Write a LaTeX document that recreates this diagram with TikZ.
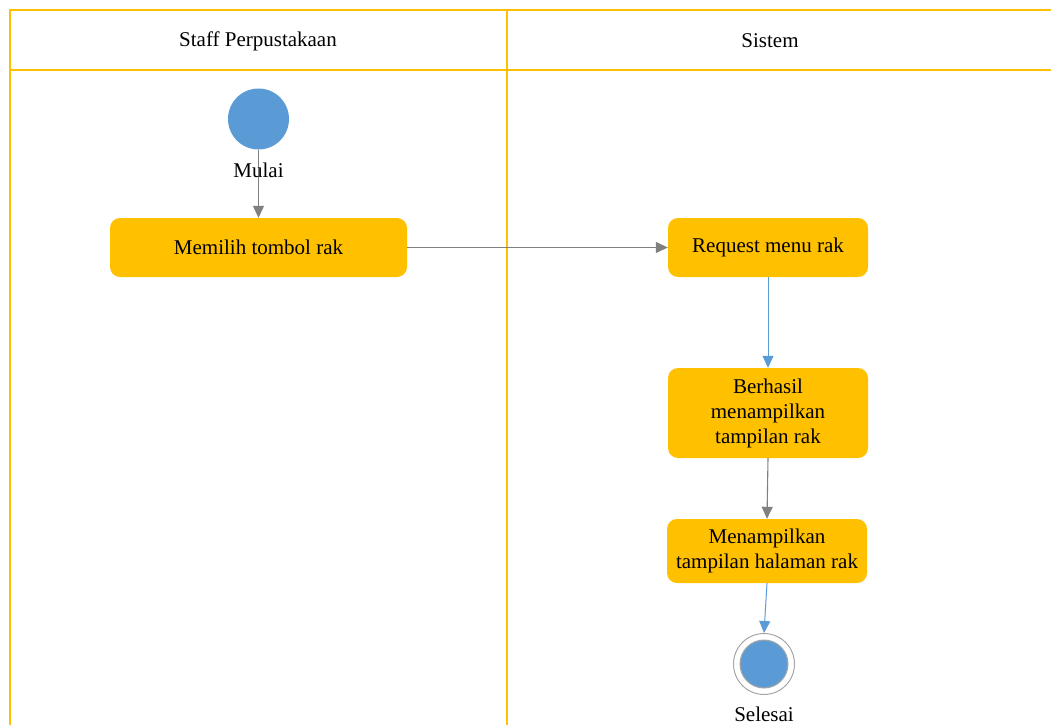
\documentclass[tikz,border=0pt]{standalone}
\usepackage{fontspec}
\setmainfont{Liberation Serif}
\usetikzlibrary{arrows.meta}
\definecolor{laneline}{HTML}{FFC000}
\definecolor{actfill}{HTML}{FFC000}
\definecolor{nodeblue}{HTML}{5B9BD5}
\definecolor{flowgray}{HTML}{808080}
\begin{document}
\begin{tikzpicture}[x=1pt,y=-1pt,
  lane/.style={draw=laneline,line width=1.3pt},
  action/.style={fill=actfill,rounded corners=10pt,align=center,inner sep=2pt,
    font=\fontsize{21}{25}\selectfont},
  lanetitle/.style={font=\fontsize{21}{25}\selectfont},
  caption/.style={font=\fontsize{21}{25}\selectfont},
  flow/.style={draw=flowgray,line width=1.1pt,-{Triangle[length=12pt,width=11pt]}},
  flowblue/.style={draw=nodeblue,line width=1pt,-{Triangle[length=12pt,width=11pt]}}]
  \useasboundingbox (0,0) rectangle (1051,725);
  % swimlane frame
  \draw[lane] (10,725) -- (10,10) -- (1051,10);
  \draw[lane] (10,70) -- (1051,70);
  \draw[lane] (507,10) -- (507,725);
  \node[lanetitle] (laneA) at (258,41) {Staff Perpustakaan};
  \node[lanetitle] (laneB) at (770,41) {Sistem};
  % start node
  \node[circle,fill=nodeblue,minimum size=61pt,inner sep=0pt] (start) at (258.5,119) {};
  % activities
  \node[action,minimum width=297pt,minimum height=59pt] (a1) at (258.5,247.5) {Memilih tombol rak};
  \node[action,minimum width=200pt,minimum height=59pt] (a2) at (768,247.5) {Request menu rak};
  \node[action,minimum width=200pt,minimum height=90pt] (a3) at (768,413) {Berhasil\\menampilkan\\tampilan rak};
  \node[action,minimum width=200pt,minimum height=64pt] (a4) at (767,551) {Menampilkan\\tampilan halaman rak};
  % end node
  \node[circle,draw=flowgray!70,line width=1pt,fill=white,minimum size=61pt,inner sep=0pt] (stop) at (764,664) {};
  \node[circle,draw=flowgray!70,line width=1pt,fill=nodeblue,minimum size=48pt,inner sep=0pt] (stopin) at (stop.center) {};
  % flows
  \draw[flow] (start.south) -- (a1.north);
  \node[caption] (startlbl) at (258.5,170) {Mulai};
  \draw[flow] (a1.east) -- (a2.west);
  \draw[flowblue] (a2.south) -- (a3.north);
  \draw[flow] (a3.south) -- (a4.north);
  \draw[flowblue] (a4.south) -- (stop.north);
  \node[caption] (stoplbl) at (764,714) {Selesai};
\end{tikzpicture}
\end{document}
